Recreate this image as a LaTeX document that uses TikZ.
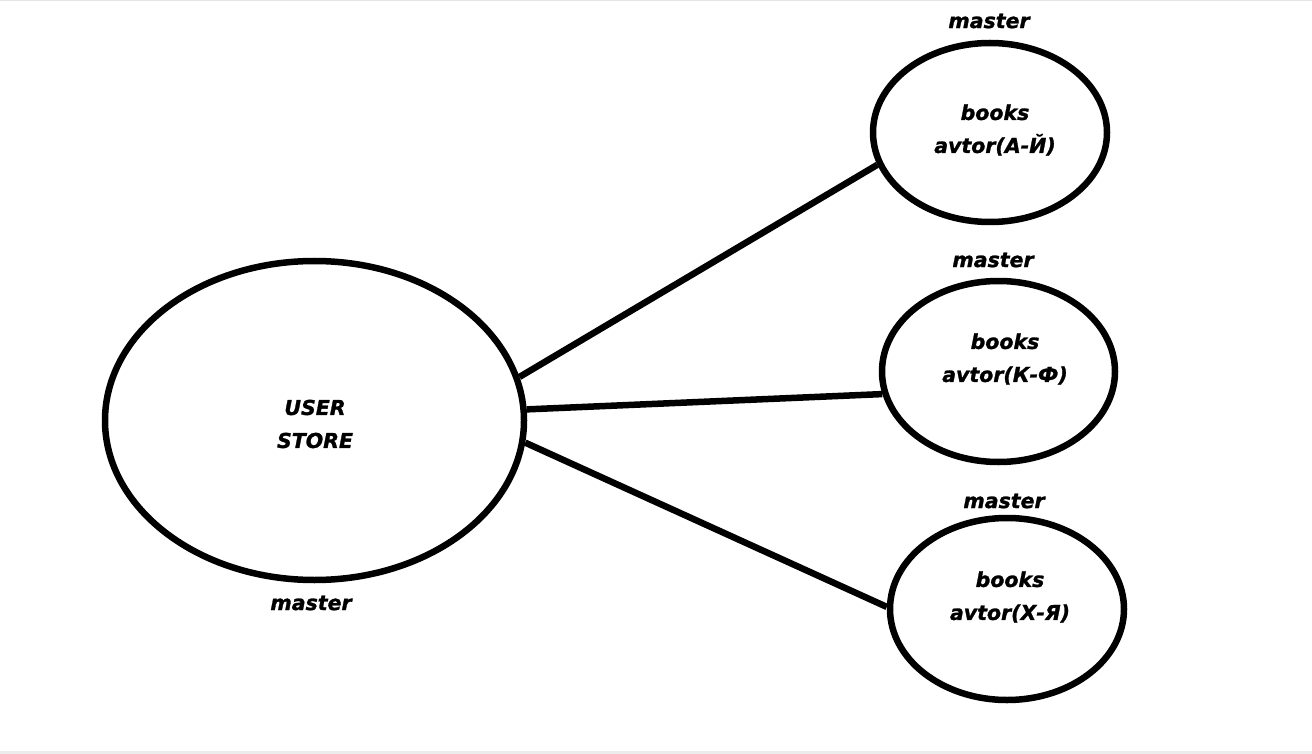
\documentclass[tikz,border=0pt]{standalone}
\usepackage{fontspec}
\setmainfont{DejaVu Sans}
\newfontfamily\heavyfont{DejaVu Sans}[UprightFont={* Bold Oblique}, UprightFeatures={FakeBold=1.3}]
\usetikzlibrary{shapes.geometric}
\begin{document}
\begin{tikzpicture}[x=1pt,y=-1pt,
  lbl/.style={font=\heavyfont\fontsize{20.5}{24}\selectfont, align=center, inner sep=0pt},
  bubble/.style={draw, ellipse, line width=6.5pt, inner sep=0pt},
  link/.style={line width=6.5pt}]
\useasboundingbox (0,0) rectangle (1312,754);
\fill[white] (0,0) rectangle (1312,754);
\draw[gray!20, line width=1.5pt] (0,0.75) -- (1312,0.75);
\fill[gray!15] (0,751) rectangle (1312,754);
\node[bubble, minimum width=419pt, minimum height=319pt] (us) at (314.5,420.5) {};
\node[bubble, minimum width=234pt, minimum height=179pt] (b1) at (990,132.5) {};
\node[bubble, minimum width=233pt, minimum height=181pt] (b2) at (998.5,371.5) {};
\node[bubble, minimum width=234pt, minimum height=182pt] (b3) at (1007,609) {};
\node[lbl] (ust) at (315,424) {USER\\[9pt]STORE};
\node[lbl] (t1) at (995,130) {books\\[9pt]avtor(А-Й)};
\node[lbl] (t2) at (1005,359) {books\\[9pt]avtor(К-Ф)};
\node[lbl] (t3) at (1010,597) {books\\[9pt]avtor(Х-Я)};
\node[lbl] (m0) at (311,603) {master};
\node[lbl] (m1) at (989,21) {master};
\node[lbl] (m2) at (993,260) {master};
\node[lbl] (m3) at (1004,501) {master};
\draw[link] (us.12) -- (b1.196);
\draw[link] (us.3.5) -- (b2.191.5);
\draw[link] (us.-6.2) -- (b3.179);
\end{tikzpicture}
\end{document}
